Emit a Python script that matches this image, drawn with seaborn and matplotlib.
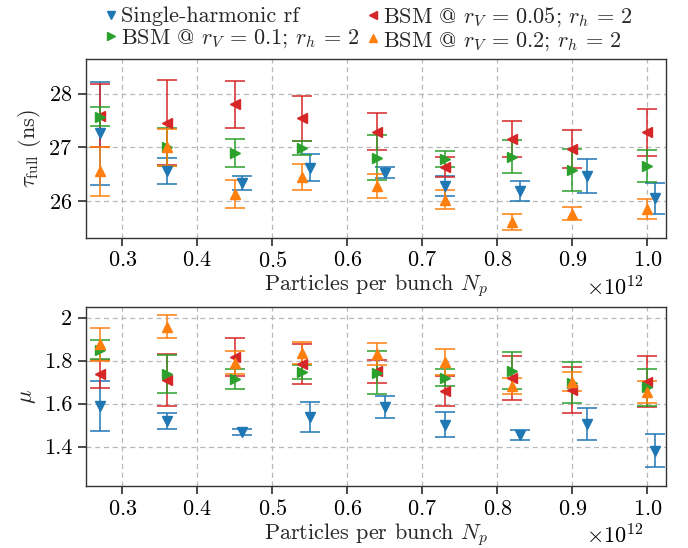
import numpy as np
import matplotlib
matplotlib.use("Agg")
import matplotlib.pyplot as plt
from matplotlib.lines import Line2D
import seaborn as sns

# ── Data ────────────────────────────────────────────────────────────────
NP_SINGLE = [0.27, 0.36, 0.46, 0.55, 0.65, 0.73, 0.83, 0.92, 1.01]   # x 1e12
NP_BSM    = [0.27, 0.36, 0.45, 0.54, 0.64, 0.73, 0.82, 0.90, 1.00]   # x 1e12

LABELS = ["Single-harmonic rf",
          r"BSM @ $r_V\,=\,0.1$; $r_h\,=\,2$",
          r"BSM @ $r_V\,=\,0.05$; $r_h\,=\,2$",
          r"BSM @ $r_V\,=\,0.2$; $r_h\,=\,2$"]

# bunch length tau_full (ns)
TAU_SINGLE     = [27.26, 26.56, 26.34, 26.62, 26.53, 26.28, 26.19, 26.47, 26.05]
TAU_SINGLE_ERR = [0.955, 0.245, 0.125, 0.25, 0.10, 0.19, 0.19, 0.31, 0.29]
TAU_R005       = [27.59, 27.46, 27.80, 27.54, 27.29, 26.64, 27.15, 26.97, 27.28]
TAU_R005_ERR   = [0.585, 0.795, 0.445, 0.425, 0.345, 0.19, 0.335, 0.36, 0.44]
TAU_R01        = [27.57, 27.01, 26.89, 26.99, 26.81, 26.78, 26.83, 26.58, 26.66]
TAU_R01_ERR    = [0.175, 0.36, 0.26, 0.135, 0.42, 0.145, 0.315, 0.385, 0.30]
TAU_R02        = [26.56, 27.00, 26.13, 26.45, 26.28, 26.03, 25.62, 25.77, 25.85]
TAU_R02_ERR    = [0.455, 0.345, 0.265, 0.24, 0.23, 0.185, 0.15, 0.125, 0.185]

# mu
MU_SINGLE     = [1.589, 1.521, 1.467, 1.537, 1.583, 1.501, 1.454, 1.506, 1.381]
MU_SINGLE_ERR = [0.118, 0.037, 0.015, 0.069, 0.052, 0.058, 0.025, 0.075, 0.076]
MU_R005       = [1.737, 1.710, 1.816, 1.785, 1.750, 1.659, 1.718, 1.664, 1.702]
MU_R005_ERR   = [0.064, 0.122, 0.089, 0.092, 0.053, 0.069, 0.103, 0.108, 0.119]
MU_R01        = [1.850, 1.738, 1.713, 1.746, 1.744, 1.721, 1.753, 1.698, 1.676]
MU_R01_ERR    = [0.044, 0.090, 0.047, 0.032, 0.100, 0.040, 0.085, 0.095, 0.087]
MU_R02        = [1.876, 1.958, 1.791, 1.834, 1.831, 1.795, 1.682, 1.701, 1.656]
MU_R02_ERR    = [0.076, 0.054, 0.053, 0.051, 0.052, 0.061, 0.038, 0.044, 0.051]

# ── Style ──────────────────────────────────────────────────────────────
sns.set_theme(style="ticks")
plt.rcParams.update({
    "font.family": ["cmr10", "DejaVu Serif"],
    "mathtext.fontset": "cm",
    "axes.formatter.use_mathtext": True,
    "font.size": 16,
    "axes.labelsize": 16,
    "xtick.labelsize": 16,
    "ytick.labelsize": 16,
    "legend.fontsize": 16,
    "axes.edgecolor": "#333333",
    "axes.linewidth": 1.0,
    "xtick.color": "#333333",
    "ytick.color": "#333333",
    "xtick.labelcolor": "black",
    "ytick.labelcolor": "black",
    "axes.unicode_minus": False,
})

COLORS = sns.color_palette("tab10")
C_BLUE, C_ORANGE, C_GREEN, C_RED = COLORS[0], COLORS[1], COLORS[2], COLORS[3]


def _series(ax, x, y, err, color, marker):
    x = np.asarray(x) * 1e12
    ax.errorbar(x, y, yerr=err, fmt=marker, color=color, ms=7,
                capsize=7, elinewidth=1.1, capthick=1.1, zorder=3)


def _panel(ax, single, single_err, r005, r005_err, r01, r01_err, r02, r02_err):
    _series(ax, NP_SINGLE, single, single_err, C_BLUE, "v")
    _series(ax, NP_BSM, r005, r005_err, C_RED, "<")
    _series(ax, NP_BSM, r01, r01_err, C_GREEN, ">")
    _series(ax, NP_BSM, r02, r02_err, C_ORANGE, "^")
    ax.grid(True, linestyle=(0, (4, 3)), color="#b8b8b8", linewidth=0.9)
    ax.set_axisbelow(True)
    ax.set_xlim(0.251e12, 1.0247e12)
    ax.set_xticks(np.array([0.3, 0.4, 0.5, 0.6, 0.7, 0.8, 0.9, 1.0]) * 1e12)
    ax.set_xlabel(r"Particles per bunch $N_p$", labelpad=1)
    ax.xaxis.get_offset_text().set_x(0.96)


fig = plt.figure(figsize=(6.88, 5.48), dpi=100)
W, H = 688, 548
ax1 = fig.add_axes([85.5 / W, 1 - 237.7 / H, (666 - 85.5) / W, (237.7 - 59.3) / H])
ax2 = fig.add_axes([85.5 / W, 1 - 486 / H, (666 - 85.5) / W, (486 - 306.7) / H])

_panel(ax1, TAU_SINGLE, TAU_SINGLE_ERR, TAU_R005, TAU_R005_ERR,
       TAU_R01, TAU_R01_ERR, TAU_R02, TAU_R02_ERR)
ax1.set_ylim(25.32, 28.64)
ax1.set_yticks([26, 27, 28])
ax1.set_ylabel(r"$\tau_\mathrm{full}$ (ns)")

_panel(ax2, MU_SINGLE, MU_SINGLE_ERR, MU_R005, MU_R005_ERR,
       MU_R01, MU_R01_ERR, MU_R02, MU_R02_ERR)
ax2.set_ylim(1.217, 2.051)
ax2.set_yticks([1.4, 1.6, 1.8, 2.0])
ax2.set_yticklabels(["1.4", "1.6", "1.8", "2"])
ax2.set_ylabel(r"$\mu$")

handles = [
    Line2D([], [], linestyle="none", marker="v", color=C_BLUE, ms=6),
    Line2D([], [], linestyle="none", marker=">", color=C_GREEN, ms=6),
    Line2D([], [], linestyle="none", marker="<", color=C_RED, ms=6),
    Line2D([], [], linestyle="none", marker="^", color=C_ORANGE, ms=6),
]
fig.legend(handles, LABELS, ncol=2, frameon=False, loc="lower center",
           bbox_to_anchor=(0.535, 0.900), handlelength=0.6, handletextpad=0.15,
           columnspacing=0.3, labelspacing=0.05, borderaxespad=0.0, borderpad=0.1)

fig.savefig("out.png", dpi=100)
